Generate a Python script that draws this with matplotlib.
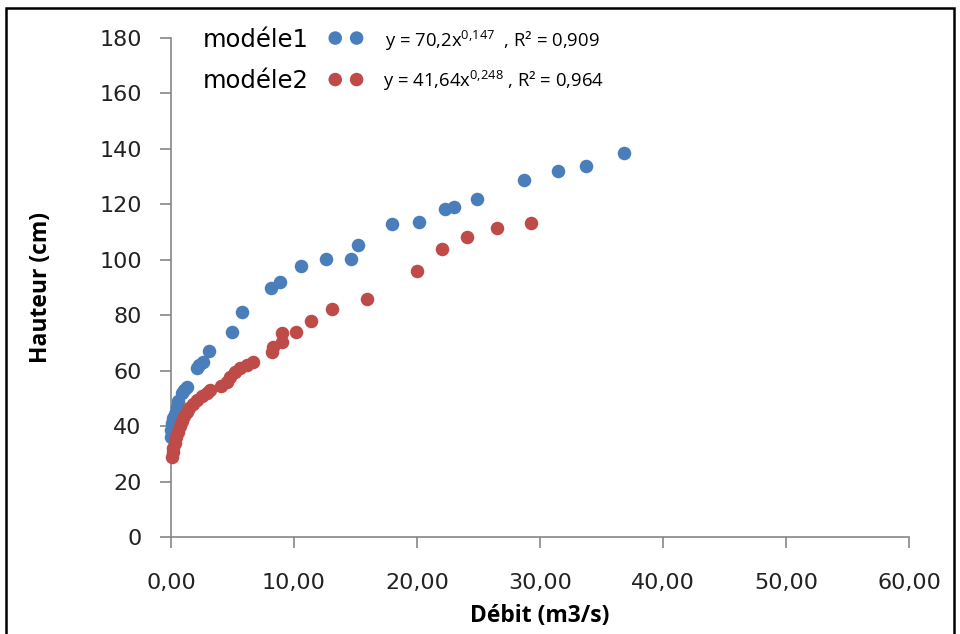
import numpy as np
import matplotlib
matplotlib.use("Agg")
from matplotlib import pyplot as plt
from matplotlib.patches import Rectangle

plt.rcParams["font.family"] = "DejaVu Sans"
plt.rcParams["mathtext.fontset"] = "custom"
plt.rcParams["mathtext.rm"] = "Open Sans"
plt.rcParams["mathtext.default"] = "regular"

# modele 1 (blue)
blue_x = [0.05, 0.05, 0.1, 0.2, 0.3, 0.5, 0.6, 0.9, 1.1, 1.3, 2.1, 2.3, 2.6, 3.1, 5.0,
          5.8, 8.1, 8.9, 10.6, 12.6, 14.6, 15.2, 18.0, 20.2, 22.3, 23.0, 24.9, 28.7,
          31.5, 33.7, 36.8]
blue_y = [36, 38.5, 41, 43, 44.5, 47, 49, 52, 53, 54, 61, 62, 63, 67, 74,
          81, 90, 92, 97.8, 100.3, 100.3, 105.5, 113, 113.6, 118.3, 119, 122, 128.8,
          132, 134, 138.5]

# modele 2 (red)
red_x = [0.1, 0.15, 0.2, 0.3, 0.45, 0.6, 0.75, 0.9, 1.1, 1.3, 1.5, 1.8, 2.1, 2.5,
         2.9, 3.2, 4.1, 4.6, 4.8, 5.2, 5.6, 6.2, 6.7, 8.2, 8.3, 9.0, 9.0, 10.2,
         11.4, 13.1, 15.9, 20.0, 22.0, 24.1, 26.5, 29.3]
red_y = [29, 30.5, 32, 34, 36, 38, 40, 42, 43.5, 45, 46.5, 48, 49.5, 51,
         52, 53, 54.5, 56, 57.7, 59.5, 61, 62, 63, 66.7, 68.5, 70.3, 73.5, 74,
         78, 82.3, 86, 96, 104, 108.2, 111.5, 113.3]

x_ticks = [0, 10, 20, 30, 40, 50, 60]
x_tick_labels = ["0,00", "10,00", "20,00", "30,00", "40,00", "50,00", "60,00"]
y_ticks = [0, 20, 40, 60, 80, 100, 120, 140, 160, 180]

eq1 = r"y = 70,2x$^{0{,}147}$  , R² = 0,909"
eq2 = r"y = 41,64x$^{0{,}248}$ , R² = 0,964"

BLUE = "#4a7ebb"
RED = "#be4b48"
AXCOL = "#868686"

fig = plt.figure(figsize=(9.6, 6.34), dpi=100)
ax = fig.add_axes([0.178, 0.153, 0.769, 0.787])

ax.scatter(blue_x, blue_y, s=95, color=BLUE, linewidths=0, clip_on=False, zorder=3, label="modéle1")
ax.scatter(red_x, red_y, s=95, color=RED, linewidths=0, clip_on=False, zorder=3, label="modéle2")

ax.set_xlim(0, 60)
ax.set_ylim(0, 180)
ax.set_xticks(x_ticks)
ax.set_xticklabels(x_tick_labels)
ax.set_yticks(y_ticks)
ax.tick_params(axis="both", direction="out", length=8, width=1.2, color=AXCOL,
               labelsize=16, labelcolor="#222222")
ax.tick_params(axis="x", pad=18)
ax.tick_params(axis="y", pad=13)
for s in ["top", "right"]:
    ax.spines[s].set_visible(False)
for s in ["left", "bottom"]:
    ax.spines[s].set_color(AXCOL)
    ax.spines[s].set_linewidth(1.2)

ax.set_xlabel("Débit (m3/s)", fontsize=16.5, fontweight="bold", family="Open Sans", labelpad=8)
ax.set_ylabel("Hauteur (cm)", fontsize=16.5, fontweight="bold", family="Open Sans", labelpad=33)

leg = ax.legend(loc="upper left", bbox_to_anchor=(0.043, 1.021), frameon=False,
                markerfirst=False, scatterpoints=2, scatteryoffsets=[0.5],
                fontsize=17.5, handlelength=1.48, handletextpad=0.8,
                labelspacing=0.72, borderpad=0, borderaxespad=0)

ax.text(0.29, 0.995, eq1, transform=ax.transAxes, fontsize=13.3, family="Open Sans",
        va="center", ha="left")
ax.text(0.287, 0.913, eq2, transform=ax.transAxes, fontsize=13.3, family="Open Sans",
        va="center", ha="left")

fig.patches.append(Rectangle((0.006, -0.01), 0.988, 0.998, transform=fig.transFigure,
                             fill=False, edgecolor="black", linewidth=1.8))

plt.savefig("out.png", dpi=100)
plt.close()
